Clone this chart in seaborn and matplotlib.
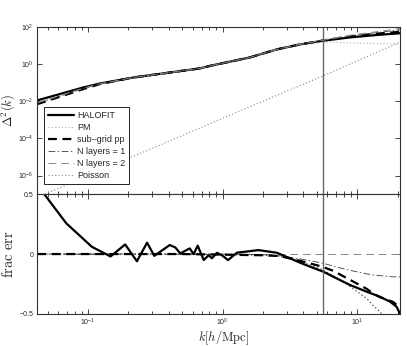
import matplotlib
matplotlib.use("Agg")
import matplotlib.pyplot as plt
import matplotlib.ticker as mticker
import seaborn as sns

# --- top panel: Delta^2(k) ---
k_top = [0.042, 0.092, 0.123, 0.217, 0.68, 0.81, 1.6, 2.53, 3.77, 5.61, 8.87, 14.0, 20.9]
halofit_top = [0.0112, 0.055, 0.091, 0.19, 0.59, 0.81, 2.3, 6.2, 11.5, 18.2, 27.5, 37.0, 46.0]
pm_top = [0.0075, 0.047, 0.086, 0.19, 0.59, 0.81, 2.3, 6.2, 11.3, 15.5, 14.0, 13.0, 12.0]
subgrid_top = [0.0070, 0.045, 0.085, 0.19, 0.59, 0.81, 2.3, 6.2, 11.6, 19.0, 31.0, 44.0, 55.0]
nl1_top = [0.0080, 0.048, 0.087, 0.19, 0.59, 0.81, 2.3, 6.2, 11.7, 19.3, 33.0, 50.0, 70.0]
nl2_top = [0.0085, 0.050, 0.088, 0.19, 0.59, 0.81, 2.3, 6.2, 11.8, 19.5, 36.0, 56.0, 82.0]
k_poisson = [0.048, 0.1, 0.3, 1.0, 3.0, 5.5, 20.9]
poisson_top = [1e-7, 1e-6, 2.9e-5, 1.2e-3, 3.5e-2, 0.22, 15.5]

# --- bottom panel: fractional error ---
k_halofit = [0.0473, 0.069, 0.107, 0.147, 0.189, 0.231, 0.275, 0.311, 0.405, 0.446,
             0.485, 0.570, 0.610, 0.654, 0.725, 0.789, 0.835, 0.91, 0.99, 1.10,
             1.28, 1.85, 2.53, 3.18, 3.77, 4.47, 5.61, 6.66, 8.87, 11.8,
             14.8, 17.6, 19.7, 20.9]
err_halofit = [0.50, 0.256, 0.06, -0.02, 0.08, -0.06, 0.095, -0.015, 0.075, 0.055,
               0.005, 0.047, 0.0, 0.07, -0.05, -0.01, -0.035, 0.01, -0.01, -0.05,
               0.011, 0.033, 0.011, -0.036, -0.072, -0.105, -0.147, -0.189, -0.258, -0.314,
               -0.356, -0.397, -0.44, -0.50]
k_err = [0.042, 0.5, 1.0, 2.0, 2.68, 3.77, 5.5, 6.66, 8.37, 11.8, 13.2, 14.8, 18.6, 20.9]
err_subgrid = [0.0, 0.0, -0.005, -0.01, -0.017, -0.056, -0.105, -0.14, -0.20, -0.29, -0.33, -0.36, -0.40, -0.45]
err_nl1 = [0.0, 0.0, 0.0, -0.005, -0.015, -0.04, -0.075, -0.10, -0.13, -0.165, -0.175, -0.18, -0.19, -0.19]
err_pm = [0.0, 0.0, -0.005, -0.01, -0.02, -0.06, -0.13, -0.18, -0.25, -0.37, -0.43, -0.48, -0.62, -0.70]
k_nl2 = [0.042, 20.9]
err_nl2 = [0.0, 0.0]

k_cut = 5.6

sns.set_style("ticks")
plt.rcParams["font.family"] = ["Liberation Sans", "DejaVu Sans"]
plt.rcParams["mathtext.fontset"] = "custom"
plt.rcParams["mathtext.rm"] = "Liberation Sans"
plt.rcParams["mathtext.it"] = "Liberation Sans:italic"
plt.rcParams["mathtext.bf"] = "Liberation Sans:bold"
plt.rcParams["mathtext.sf"] = "Liberation Sans"

fig = plt.figure(figsize=(4.07, 3.46), dpi=100)
ax1 = fig.add_axes([0.091, 0.439, 0.892, 0.483])
ax2 = fig.add_axes([0.091, 0.0925, 0.892, 0.3465])

styles = {
    "HALOFIT": dict(color="black", lw=1.6, linestyle="-"),
    "PM": dict(color="#b0b0b0", lw=0.8, linestyle=(0, (1, 2))),
    "sub-grid pp": dict(color="black", lw=1.6, linestyle=(0, (4, 2.5))),
    "N layers = 1": dict(color="#555555", lw=0.7, linestyle=(0, (7, 2.5, 1.5, 2.5))),
    "N layers = 2": dict(color="#888888", lw=0.7, linestyle=(0, (8, 5))),
    "Poisson": dict(color="#888888", lw=0.8, linestyle=(0, (1, 2))),
}

sns.lineplot(x=k_top, y=halofit_top, ax=ax1, label="HALOFIT", **styles["HALOFIT"])
sns.lineplot(x=k_top, y=pm_top, ax=ax1, label="PM", **styles["PM"])
sns.lineplot(x=k_top, y=subgrid_top, ax=ax1, label="sub\u2013grid pp", **styles["sub-grid pp"])
sns.lineplot(x=k_top, y=nl1_top, ax=ax1, label="N layers = 1", **styles["N layers = 1"])
sns.lineplot(x=k_top, y=nl2_top, ax=ax1, label="N layers = 2", **styles["N layers = 2"])
sns.lineplot(x=k_poisson, y=poisson_top, ax=ax1, label="Poisson", **styles["Poisson"])

sns.lineplot(x=k_nl2, y=err_nl2, ax=ax2, **styles["N layers = 2"])
sns.lineplot(x=k_err, y=err_nl1, ax=ax2, **styles["N layers = 1"])
sns.lineplot(x=k_err, y=err_pm, ax=ax2, color="#444444", lw=0.9, linestyle=(0, (1, 2)))
sns.lineplot(x=k_err, y=err_subgrid, ax=ax2, **styles["sub-grid pp"])
sns.lineplot(x=k_halofit, y=err_halofit, ax=ax2, **styles["HALOFIT"])

for ax in (ax1, ax2):
    ax.set_xscale("log")
    ax.set_xlim(0.0418, 20.9)
    ax.axvline(k_cut, color="#666666", lw=1.0)
    ax.tick_params(which="both", direction="in", top=True, right=True,
                   labelsize=5, width=0.6)
    ax.tick_params(axis="y", pad=2.5)
    ax.tick_params(axis="x", pad=2)
    ax.tick_params(which="major", length=3.5)
    ax.tick_params(which="minor", length=2)
    for s in ax.spines.values():
        s.set_linewidth(0.8)
        s.set_color("#333333")

ax1.set_yscale("log")
ax1.set_ylim(1e-7, 1e2)
ax1.yaxis.set_major_locator(mticker.FixedLocator([1e-6, 1e-4, 1e-2, 1e0, 1e2]))
ax1.yaxis.set_minor_locator(mticker.NullLocator())
ax1.tick_params(axis="x", which="both", labelbottom=False)
ax1.set_xlabel("")
ax1.set_ylabel(r"$\Delta^2(k)$", fontsize=9, math_fontfamily="cm")
ax1.yaxis.set_label_coords(-0.055, 0.5)

leg = ax1.legend(loc="lower left", bbox_to_anchor=(0.02, 0.06), fontsize=6.5,
                 frameon=True, fancybox=False, handlelength=2.9, labelspacing=0.35,
                 borderpad=0.4, handletextpad=0.3, borderaxespad=0)
leg.get_frame().set_edgecolor("black")
leg.get_frame().set_linewidth(0.6)
leg.get_frame().set_alpha(1)

ax2.set_ylim(-0.5, 0.5)
ax2.set_yticks([-0.5, 0, 0.5])
ax2.set_yticklabels(["\u22120.5", "0", "0.5"])
ax2.set_ylabel(r"$\mathrm{frac\ err}$", fontsize=10.5, math_fontfamily="cm")
ax2.yaxis.set_label_coords(-0.057, 0.5)
ax2.set_xlabel(r"$k[h/\mathrm{Mpc}]$", fontsize=9, math_fontfamily="cm")
ax2.xaxis.set_label_coords(0.515, -0.118)

fig.savefig("out.png", dpi=100)
